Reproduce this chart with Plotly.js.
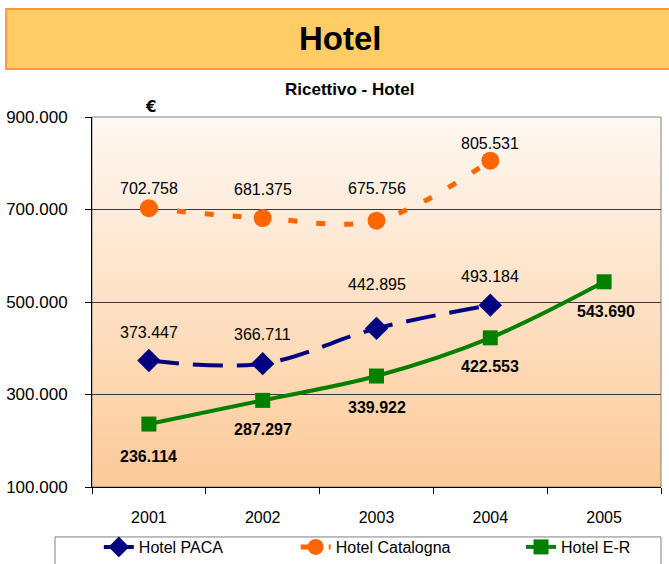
<!DOCTYPE html>
<html>
<head>
<meta charset="utf-8">
<script src="https://cdn.plot.ly/plotly-3.0.1.min.js"></script>
<style>html,body{margin:0;padding:0;background:#fff;}#chart{width:669px;height:564px;}</style>
</head>
<body>
<div id="chart"></div>
<script>
var years = ['2001', '2002', '2003', '2004', '2005'];
var paca = [373447, 366711, 442895, 493184, null];
var catalogna = [702758, 681375, 675756, 805531, null];
var er = [236114, 287297, 339922, 422553, 543690];
var seriesNames = ['Hotel PACA', 'Hotel Catalogna', 'Hotel E-R'];
var yTicks = [100000, 300000, 500000, 700000, 900000];

// label placement (pixel offsets from each point, layout only)
var pacaLabelShift = [28, 29, 44, 29, 0];
var catLabelShift = [20, 29, 32, 17, 0];
var erLabelShift = [-32, -29, -31, -29, -30];

var FONT = '"Liberation Sans", Arial, sans-serif';

function fmt(v) {
  return String(Math.round(v)).replace(/\B(?=(\d{3})+(?!\d))/g, '.');
}

var gradSvg = '<svg xmlns="http://www.w3.org/2000/svg" width="100" height="100" preserveAspectRatio="none">' +
  '<defs><linearGradient id="g" x1="0" y1="0" x2="0" y2="1">' +
  '<stop offset="0" stop-color="#FFF8F2"/><stop offset="1" stop-color="#FDCA98"/></linearGradient></defs>' +
  '<rect width="100" height="100" fill="url(#g)"/></svg>';

var traces = [
  {
    x: years, y: paca, name: seriesNames[0], type: 'scatter', mode: 'lines+markers', legend: 'legend',
    line: {color: '#000080', width: 4, dash: '30px,14px', shape: 'spline', smoothing: 1},
    marker: {symbol: 'diamond', size: 18, color: '#000080'}
  },
  {
    x: years, y: catalogna, name: seriesNames[1], type: 'scatter', mode: 'lines+markers', legend: 'legend2',
    line: {color: '#FF6600', width: 5, dash: '9px,19px', shape: 'spline', smoothing: 1},
    marker: {symbol: 'circle', size: 18, color: '#FF6600'}
  },
  {
    x: years, y: er, name: seriesNames[2], type: 'scatter', mode: 'lines+markers', legend: 'legend3',
    line: {color: '#008000', width: 4, shape: 'spline', smoothing: 1},
    marker: {symbol: 'square', size: 15, color: '#008000'}
  }
];

// data labels, placed at the data points through the axes (category index on x)
var labelAnns = [];
function addLabels(vals, shifts, bold) {
  for (var i = 0; i < years.length; i++) {
    if (vals[i] === null) continue;
    labelAnns.push({
      x: i, y: vals[i], xref: 'x', yref: 'y',
      text: bold ? '<b>' + fmt(vals[i]) + '</b>' : fmt(vals[i]),
      showarrow: false, xanchor: 'center', yanchor: 'middle',
      xshift: (bold && i === years.length - 1) ? 2 : 0, yshift: shifts[i],
      font: {family: FONT, size: 16, color: '#000'}
    });
  }
}
addLabels(paca, pacaLabelShift, false);
addLabels(catalogna, catLabelShift, false);
addLabels(er, erLabelShift, true);

function legendAt(xpos) {
  return {
    orientation: 'h', xref: 'paper', yref: 'container',
    x: xpos, xanchor: 'left', y: -0.012, yanchor: 'bottom',
    borderwidth: 0, bgcolor: 'rgba(0,0,0,0)',
    font: {family: FONT, size: 16, color: '#000'}
  };
}

var layout = {
  width: 669, height: 564,
  margin: {l: 92, r: 8, t: 117, b: 77},
  separators: ',.',
  paper_bgcolor: '#ffffff',
  plot_bgcolor: 'rgba(0,0,0,0)',
  font: {family: FONT, size: 15, color: '#000'},
  showlegend: true,
  legend: legendAt(0.012),
  legend2: legendAt(0.358),
  legend3: legendAt(0.754),
  xaxis: {
    type: 'category', range: [-0.5, 4.5],
    showgrid: false, showline: true, linecolor: '#000', linewidth: 1,
    ticks: 'outside', tickson: 'boundaries', ticklen: 6, tickcolor: '#000',
    ticklabelstandoff: 16,
    tickfont: {family: FONT, size: 16, color: '#000'},
    zeroline: false, fixedrange: true
  },
  yaxis: {
    range: [100000, 900000], tickvals: yTicks, tickformat: ',.0f',
    showgrid: true, gridcolor: '#3a3a3a', gridwidth: 1,
    showline: true, linecolor: '#000', linewidth: 1,
    ticks: 'outside', ticklen: 6, tickcolor: '#000',
    ticklabelstandoff: 14,
    tickfont: {family: FONT, size: 17, color: '#000'},
    zeroline: false, fixedrange: true
  },
  images: [{
    source: 'data:image/svg+xml;charset=utf-8,' + encodeURIComponent(gradSvg),
    xref: 'paper', yref: 'paper', x: 0, y: 1, sizex: 1, sizey: 1,
    sizing: 'stretch', xanchor: 'left', yanchor: 'top', layer: 'below'
  }],
  shapes: [
    {type: 'rect', xref: 'paper', yref: 'paper', x0: -0.151, x1: 1.03, y0: 1.13, y1: 1.292,
     fillcolor: '#FFCC66', line: {color: '#FF9933', width: 2}, layer: 'above'},
    {type: 'rect', xref: 'paper', yref: 'paper', x0: 0, x1: 1, y0: 0, y1: 1,
     fillcolor: 'rgba(0,0,0,0)', line: {color: '#808080', width: 1}, layer: 'below'},
    {type: 'rect', xref: 'paper', yref: 'paper', x0: -0.065, x1: 1.0, y0: -0.135, y1: -0.26,
     fillcolor: '#ffffff', line: {color: '#808080', width: 1}, layer: 'above'}
  ],
  annotations: [
    {text: '<b>Hotel</b>', xref: 'paper', yref: 'paper', x: 0.436, y: 1.211,
     showarrow: false, xanchor: 'center', yanchor: 'middle',
     font: {family: FONT, size: 33, color: '#000'}},
    {text: '<b>Ricettivo - Hotel</b>', xref: 'paper', yref: 'paper', x: 0.453, y: 1.073,
     showarrow: false, xanchor: 'center', yanchor: 'middle',
     font: {family: FONT, size: 17, color: '#000'}},
    {text: '<b>€</b>', xref: 'paper', yref: 'paper', x: 0.102, y: 1.026,
     showarrow: false, xanchor: 'center', yanchor: 'middle',
     font: {family: '"DejaVu Sans", sans-serif', size: 15, color: '#000'}}
  ].concat(labelAnns)
};

Plotly.newPlot('chart', traces, layout, {displayModeBar: false, staticPlot: true});
</script>
</body>
</html>
